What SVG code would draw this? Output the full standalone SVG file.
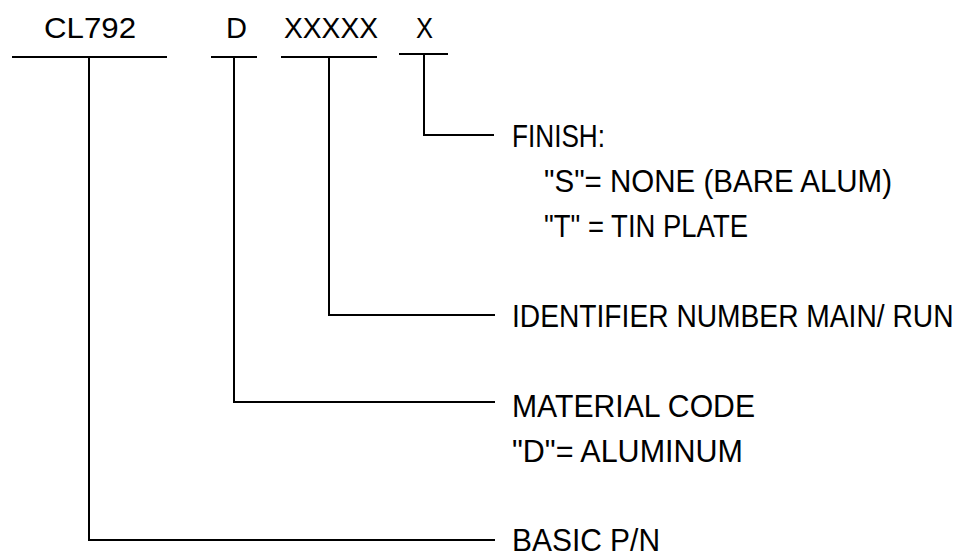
<svg xmlns="http://www.w3.org/2000/svg" width="968" height="557" viewBox="0 0 968 557">
<style>
.t{font-family:"Liberation Sans",Arial,sans-serif;font-size:32px;fill:#000;}
.h{font-size:30px;}
.ln{stroke:#000;stroke-width:2;fill:none;}
</style>
<rect width="968" height="557" fill="#fff"/>
<g id="code-basic">
<text class="t h" x="44" y="38" textLength="92" lengthAdjust="spacingAndGlyphs">CL792</text>
<line class="ln" x1="12" y1="57" x2="167" y2="57"/>
</g>
<g id="code-material">
<text class="t h" x="226" y="38" textLength="21" lengthAdjust="spacingAndGlyphs">D</text>
<line class="ln" x1="211" y1="57" x2="257" y2="57"/>
</g>
<g id="code-identifier">
<text class="t h" x="284" y="38" textLength="94" lengthAdjust="spacingAndGlyphs">XXXXX</text>
<line class="ln" x1="281" y1="57" x2="377" y2="57"/>
</g>
<g id="code-finish">
<text class="t h" x="416" y="38" textLength="17" lengthAdjust="spacingAndGlyphs">X</text>
<line class="ln" x1="399" y1="54" x2="448" y2="54"/>
</g>
<g id="connectors">
<polyline class="ln" points="424,54 424,135 494,135"/>
<polyline class="ln" points="329,57 329,315 495,315"/>
<polyline class="ln" points="234,57 234,402 495,402"/>
<polyline class="ln" points="89,57 89,540 495,540"/>
</g>
<g id="label-finish">
<text class="t" x="512" y="147" textLength="93" lengthAdjust="spacingAndGlyphs">FINISH:</text>
<text class="t" x="544" y="192" textLength="348" lengthAdjust="spacingAndGlyphs">"S"= NONE (BARE ALUM)</text>
<text class="t" x="544" y="237" textLength="204" lengthAdjust="spacingAndGlyphs">"T" = TIN PLATE</text>
</g>
<g id="label-identifier">
<text class="t" x="0" y="0" style="font-size:28.2px" transform="translate(512,327) scale(1,1.14)">IDENTIFIER NUMBER MAIN/ RUN</text>
</g>
<g id="label-material">
<text class="t" x="512" y="417" textLength="243" lengthAdjust="spacingAndGlyphs">MATERIAL CODE</text>
<text class="t" x="512" y="462" textLength="231" lengthAdjust="spacingAndGlyphs">"D"= ALUMINUM</text>
</g>
<g id="label-basic">
<text class="t" x="512" y="551" textLength="148" lengthAdjust="spacingAndGlyphs">BASIC P/N</text>
</g>
</svg>
